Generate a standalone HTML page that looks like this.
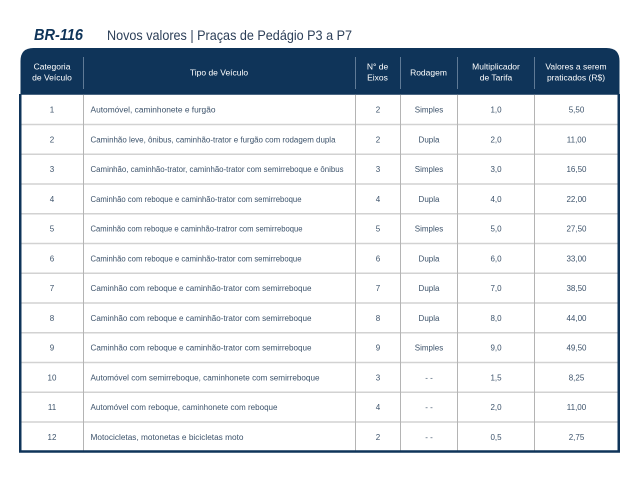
<!DOCTYPE html>
<html>
<head>
<meta charset="utf-8">
<style>
  html,body{margin:0;padding:0;background:#ffffff;}
  svg{display:block;}
  text{font-family:"Liberation Sans", Arial, sans-serif;}
</style>
</head>
<body>
<svg width="643" height="479" viewBox="0 0 643 479" xmlns="http://www.w3.org/2000/svg">
  <rect x="0" y="0" width="643" height="479" fill="#ffffff"/>

  <!-- Title -->
  <text x="34" y="40" font-size="16" font-weight="bold" font-style="italic" fill="#0f3459" textLength="49" lengthAdjust="spacingAndGlyphs">BR-116</text>
  <text x="107" y="40" font-size="14" fill="#2c3f58" textLength="245" lengthAdjust="spacingAndGlyphs">Novos valores | Praças de Pedágio P3 a P7</text>

  <!-- Table body background -->
  <rect x="20.5" y="60" width="598" height="391" fill="#ffffff"/>

  <!-- Header -->
  <path d="M20.5 94.7 L20.5 61 Q20.5 48 33.5 48 L606.5 48 Q619.5 48 619.5 61 L619.5 94.7 Z" fill="#0f3459"/>

  <!-- Header dividers -->
  <g stroke="#5f7a96" stroke-width="1">
    <line x1="83.5" y1="57" x2="83.5" y2="89"/>
    <line x1="355.5" y1="57" x2="355.5" y2="89"/>
    <line x1="400.5" y1="57" x2="400.5" y2="89"/>
    <line x1="457.5" y1="57" x2="457.5" y2="89"/>
    <line x1="534.5" y1="57" x2="534.5" y2="89"/>
  </g>

  <!-- Header text -->
  <g fill="#ffffff" font-size="8.5" text-anchor="middle">
    <text x="52" y="69.5">Categoria</text>
    <text x="52" y="80.5">de Veículo</text>
    <text x="219" y="75.5">Tipo de Veículo</text>
    <text x="377.5" y="69.5">N° de</text>
    <text x="377.5" y="80.5">Eixos</text>
    <text x="428.5" y="75.5">Rodagem</text>
    <text x="496" y="69.5">Multiplicador</text>
    <text x="496" y="80.5">de Tarifa</text>
    <text x="576" y="69.5">Valores a serem</text>
    <text x="576" y="80.5">praticados (R$)</text>
  </g>

  <!-- Row separators -->
  <g stroke="#d2d2d2" stroke-width="1.5">
    <line x1="21" y1="124.45" x2="618" y2="124.45"/>
    <line x1="21" y1="154.2" x2="618" y2="154.2"/>
    <line x1="21" y1="183.95" x2="618" y2="183.95"/>
    <line x1="21" y1="213.7" x2="618" y2="213.7"/>
    <line x1="21" y1="243.45" x2="618" y2="243.45"/>
    <line x1="21" y1="273.2" x2="618" y2="273.2"/>
    <line x1="21" y1="302.95" x2="618" y2="302.95"/>
    <line x1="21" y1="332.7" x2="618" y2="332.7"/>
    <line x1="21" y1="362.45" x2="618" y2="362.45"/>
    <line x1="21" y1="392.2" x2="618" y2="392.2"/>
    <line x1="21" y1="421.95" x2="618" y2="421.95"/>
  </g>

  <!-- Body column dividers -->
  <g stroke="#b4b4b4" stroke-width="1">
    <line x1="83.5" y1="94.7" x2="83.5" y2="451"/>
    <line x1="355.5" y1="94.7" x2="355.5" y2="451"/>
    <line x1="400.5" y1="94.7" x2="400.5" y2="451"/>
    <line x1="457.5" y1="94.7" x2="457.5" y2="451"/>
    <line x1="534.5" y1="94.7" x2="534.5" y2="451"/>
  </g>

  <!-- Outer border (left, right, bottom) -->
  <path d="M20.25 94 L20.25 451.5 L618.75 451.5 L618.75 94" fill="none" stroke="#0f3459" stroke-width="2.5"/>

  <!-- Body text -->
  <g fill="#3d536b" font-size="8">
    <!-- col 1 -->
    <g text-anchor="middle">
      <text x="52" y="112.6">1</text>
      <text x="52" y="142.3">2</text>
      <text x="52" y="172.1">3</text>
      <text x="52" y="201.8">4</text>
      <text x="52" y="231.6">5</text>
      <text x="52" y="261.3">6</text>
      <text x="52" y="291.1">7</text>
      <text x="52" y="320.8">8</text>
      <text x="52" y="350.6">9</text>
      <text x="52" y="380.3">10</text>
      <text x="52" y="410.1">11</text>
      <text x="52" y="439.8">12</text>
    </g>
    <!-- descriptions -->
    <text x="90.5" y="112.6" textLength="125" lengthAdjust="spacingAndGlyphs">Automóvel, caminhonete e furgão</text>
    <text x="90.5" y="142.3" textLength="245" lengthAdjust="spacingAndGlyphs">Caminhão leve, ônibus, caminhão-trator e furgão com rodagem dupla</text>
    <text x="90.5" y="172.1" textLength="253" lengthAdjust="spacingAndGlyphs">Caminhão, caminhão-trator, caminhão-trator com semirreboque e ônibus</text>
    <text x="90.5" y="201.8" textLength="211" lengthAdjust="spacingAndGlyphs">Caminhão com reboque e caminhão-trator com semirreboque</text>
    <text x="90.5" y="231.6" textLength="212" lengthAdjust="spacingAndGlyphs">Caminhão com reboque e caminhão-tratror com semirreboque</text>
    <text x="90.5" y="261.3" textLength="211" lengthAdjust="spacingAndGlyphs">Caminhão com reboque e caminhão-trator com semirreboque</text>
    <text x="90.5" y="291.1" textLength="221" lengthAdjust="spacingAndGlyphs">Caminhão com reboque e caminhão-trator com semirreboque</text>
    <text x="90.5" y="320.8" textLength="221" lengthAdjust="spacingAndGlyphs">Caminhão com reboque e caminhão-trator com semirreboque</text>
    <text x="90.5" y="350.6" textLength="221" lengthAdjust="spacingAndGlyphs">Caminhão com reboque e caminhão-trator com semirreboque</text>
    <text x="90.5" y="380.3" textLength="229" lengthAdjust="spacingAndGlyphs">Automóvel com semirreboque, caminhonete com semirreboque</text>
    <text x="90.5" y="410.1" textLength="187" lengthAdjust="spacingAndGlyphs">Automóvel com reboque, caminhonete com reboque</text>
    <text x="90.5" y="439.8" textLength="153" lengthAdjust="spacingAndGlyphs">Motocicletas, motonetas e bicicletas moto</text>

    <!-- eixos -->
    <g text-anchor="middle">
      <text x="378" y="112.6">2</text>
      <text x="378" y="142.3">2</text>
      <text x="378" y="172.1">3</text>
      <text x="378" y="201.8">4</text>
      <text x="378" y="231.6">5</text>
      <text x="378" y="261.3">6</text>
      <text x="378" y="291.1">7</text>
      <text x="378" y="320.8">8</text>
      <text x="378" y="350.6">9</text>
      <text x="378" y="380.3">3</text>
      <text x="378" y="410.1">4</text>
      <text x="378" y="439.8">2</text>
    </g>
    <!-- rodagem -->
    <g text-anchor="middle">
      <text x="429" y="112.6">Simples</text>
      <text x="429" y="142.3">Dupla</text>
      <text x="429" y="172.1">Simples</text>
      <text x="429" y="201.8">Dupla</text>
      <text x="429" y="231.6">Simples</text>
      <text x="429" y="261.3">Dupla</text>
      <text x="429" y="291.1">Dupla</text>
      <text x="429" y="320.8">Dupla</text>
      <text x="429" y="350.6">Simples</text>
      <text x="429" y="380.3">- -</text>
      <text x="429" y="410.1">- -</text>
      <text x="429" y="439.8">- -</text>
    </g>
    <!-- multiplicador -->
    <g text-anchor="middle">
      <text x="496" y="112.6">1,0</text>
      <text x="496" y="142.3">2,0</text>
      <text x="496" y="172.1">3,0</text>
      <text x="496" y="201.8">4,0</text>
      <text x="496" y="231.6">5,0</text>
      <text x="496" y="261.3">6,0</text>
      <text x="496" y="291.1">7,0</text>
      <text x="496" y="320.8">8,0</text>
      <text x="496" y="350.6">9,0</text>
      <text x="496" y="380.3">1,5</text>
      <text x="496" y="410.1">2,0</text>
      <text x="496" y="439.8">0,5</text>
    </g>
    <!-- valores -->
    <g text-anchor="middle">
      <text x="576.5" y="112.6">5,50</text>
      <text x="576.5" y="142.3">11,00</text>
      <text x="576.5" y="172.1">16,50</text>
      <text x="576.5" y="201.8">22,00</text>
      <text x="576.5" y="231.6">27,50</text>
      <text x="576.5" y="261.3">33,00</text>
      <text x="576.5" y="291.1">38,50</text>
      <text x="576.5" y="320.8">44,00</text>
      <text x="576.5" y="350.6">49,50</text>
      <text x="576.5" y="380.3">8,25</text>
      <text x="576.5" y="410.1">11,00</text>
      <text x="576.5" y="439.8">2,75</text>
    </g>
  </g>
</svg>
</body>
</html>
